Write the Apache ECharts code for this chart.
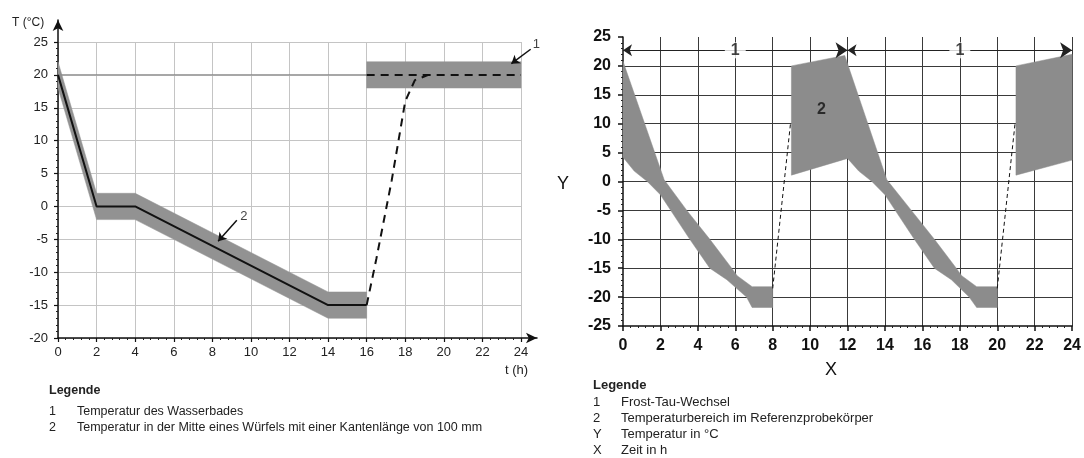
<!DOCTYPE html>
<html>
<head>
<meta charset="utf-8">
<script src="https://cdn.jsdelivr.net/npm/echarts@6/dist/echarts.min.js"></script>
<style>
  html, body { margin: 0; padding: 0; background: #fff; }
  #chart { width: 1084px; height: 458px; }
</style>
</head>
<body>
<div id="chart"></div>
<script>
// ---- left chart: Würfel / Wasserbad ----
const cubeCenter = [[0, 20], [2, 0], [4, 0], [14, -15], [16, -15]];
const cubeUpper = [[0, 22], [2, 2], [4, 2], [14, -13], [16, -13]];
const cubeLower = [[0, 18], [2, -2], [4, -2], [14, -17], [16, -17]];
const bathUpper = [[16, 22], [24, 22]];
const bathLower = [[16, 18], [24, 18]];
const bathLine = [[16, 20], [24, 20]];
const startLine = [[0, 20], [16, 20]];
const warmUp = [[16, -15], [16.5, -8], [17.3, 4], [18, 16], [18.5, 19.2], [19.2, 20]];
const leftNotes = [[24.8, 24.7, '1'], [9.64, -1.5, '2']];
const leftNoteArrows = [[[24.5, 23.9], [23.5, 21.7]], [[9.27, -2.1], [8.3, -5.3]]];

// ---- right chart: Frost-Tau-Wechsel ----
const cycle1Upper = [[0, 20.8], [2.2, 0.3], [3.41, -5], [4.64, -10], [5.81, -15], [6.1, -16.3], [6.9, -18.2], [8, -18.2]];
const cycle1Lower = [[0, 4.2], [0.6, 1.8], [1.3, 0], [2, -2.3], [3.57, -10], [4.64, -15], [5.55, -17], [6.6, -20], [6.9, -21.8], [8, -21.8]];
const cycle2Upper = [[9, 20], [11.85, 21.8], [14.1, 0.3], [15.41, -5], [16.64, -10], [17.81, -15], [18.1, -16.3], [18.9, -18.2], [20, -18.2]];
const cycle2Lower = [[9, 1.1], [12, 4], [12.6, 1.8], [13.3, 0], [14, -2.3], [15.57, -10], [16.64, -15], [17.55, -17], [18.5, -20], [18.9, -21.8], [20, -21.8]];
const cycle3Upper = [[21, 20], [24, 22]];
const cycle3Lower = [[21, 1.1], [24, 3.7]];
const thaw1 = [[8, -18.5], [8.95, 10]];
const thaw2 = [[20, -18.5], [20.95, 10]];
const cycleSpans = [[0, 12], [12, 24]];
const cycleRowY = 22.7;
const cycleNotes = [[6, 22.7, '1'], [18, 22.7, '1']];
const rangeNote = [[10.6, 12.4, '2']];

const FONT = 'Liberation Sans, Arial, sans-serif';

function polygon(upper, lower) {
  return upper.concat(lower.slice().reverse());
}

function bandSeries(upper, lower, axis, color) {
  const pts = polygon(upper, lower);
  return {
    type: 'custom',
    xAxisIndex: axis,
    yAxisIndex: axis,
    data: pts,
    encode: { x: 0, y: 1 },
    clip: false,
    silent: true,
    renderItem: function (params, api) {
      if (params.dataIndex !== 0) return null;
      return {
        type: 'polygon',
        shape: { points: pts.map(p => api.coord(p)) },
        style: { fill: color, stroke: color, lineWidth: 0.5 }
      };
    }
  };
}

function lineSeries(data, axis, color, width, type) {
  return {
    type: 'line',
    xAxisIndex: axis,
    yAxisIndex: axis,
    data: data,
    symbol: 'none',
    silent: true,
    clip: false,
    lineStyle: { color: color, width: width, type: type || 'solid' }
  };
}

function noteSeries(data, axis, label) {
  return {
    type: 'scatter', xAxisIndex: axis, yAxisIndex: axis, data: data, symbolSize: 0,
    clip: false, silent: true, z: 5,
    label: Object.assign({ show: true, position: 'inside', formatter: p => p.value[2],
      fontFamily: FONT, color: '#111' }, label)
  };
}

function valueAxis(opts) {
  return Object.assign({
    type: 'value',
    axisLine: { show: true, onZero: false, lineStyle: { color: '#111', width: 1.5 } },
    axisTick: { show: true, length: 4, lineStyle: { color: '#111', width: 1.2 } },
    minorTick: { show: true, splitNumber: 5, length: 2, lineStyle: { color: '#222' } },
    splitLine: { show: true, lineStyle: { color: '#c4c4c4', width: 1 } }
  }, opts);
}

const arrowAxis = (gi) => ({
  type: 'value', gridIndex: gi, min: 0, max: 1,
  axisLine: { show: true, onZero: false, symbol: ['none', 'arrow'], symbolSize: [8, 11],
    lineStyle: { color: '#111', width: 1.5 } },
  axisTick: { show: false }, axisLabel: { show: false }, splitLine: { show: false }
});

const leftLabel = { fontFamily: FONT, fontSize: 13, color: '#222' };
const rightLabel = { fontFamily: FONT, fontSize: 16, fontWeight: 'bold', color: '#111' };

const option = {
  animation: false,
  grid: [
    { left: 58, top: 42, width: 463, height: 296 },
    { left: 58, top: 20, width: 479, height: 318 },
    { left: 623, top: 37, width: 450, height: 289 }
  ],
  xAxis: [
    valueAxis({ gridIndex: 0, min: 0, max: 24, interval: 2, axisLine: { show: false, onZero: false },
      axisLabel: Object.assign({ margin: 8 }, leftLabel) }),
    arrowAxis(1),
    valueAxis({ gridIndex: 2, min: 0, max: 24, interval: 2,
      axisTick: { show: true, length: 5, lineStyle: { color: '#111', width: 1.5 } },
      splitLine: { show: true, showMinLine: false, lineStyle: { color: '#3a3a3a', width: 1 } },
      axisLabel: Object.assign({ margin: 12 }, rightLabel) })
  ],
  yAxis: [
    valueAxis({ gridIndex: 0, min: -20, max: 25, interval: 5, axisLine: { show: false, onZero: false },
      axisLabel: Object.assign({ margin: 10 }, leftLabel) }),
    arrowAxis(1),
    valueAxis({ gridIndex: 2, min: -25, max: 25, interval: 5,
      axisTick: { show: true, length: 5, lineStyle: { color: '#111', width: 1.5 } },
      splitLine: { show: true, showMinLine: false, showMaxLine: false, lineStyle: { color: '#3a3a3a', width: 1 } },
      axisLabel: Object.assign({ margin: 12 }, rightLabel) })
  ],
  series: [
    // left
    lineSeries(startLine, 0, '#8a8a8a', 1.2),
    bandSeries(cubeUpper, cubeLower, 0, '#929292'),
    bandSeries(bathUpper, bathLower, 0, '#929292'),
    lineSeries(cubeCenter, 0, '#111', 2),
    lineSeries(bathLine, 0, '#111', 2, [8, 6]),
    lineSeries(warmUp, 0, '#111', 2, [8, 6]),
    {
      type: 'lines', coordinateSystem: 'cartesian2d', xAxisIndex: 0, yAxisIndex: 0,
      clip: false, silent: true, symbol: ['none', 'arrow'], symbolSize: 8,
      lineStyle: { color: '#111', width: 1.5, opacity: 1 },
      data: leftNoteArrows.map(a => ({ coords: a }))
    },
    noteSeries(leftNotes, 0, { fontSize: 13 }),
    // right
    bandSeries(cycle1Upper, cycle1Lower, 2, '#8c8c8c'),
    bandSeries(cycle2Upper, cycle2Lower, 2, '#8c8c8c'),
    bandSeries(cycle3Upper, cycle3Lower, 2, '#8c8c8c'),
    lineSeries(thaw1, 2, '#111', 1, [4, 3]),
    lineSeries(thaw2, 2, '#111', 1, [4, 3]),
    {
      type: 'lines', coordinateSystem: 'cartesian2d', xAxisIndex: 2, yAxisIndex: 2,
      clip: false, silent: true, symbol: ['arrow', 'arrow'], symbolSize: [9, 12],
      lineStyle: { color: '#222', width: 1, opacity: 1 },
      data: cycleSpans.map(s => ({ coords: [[s[0], cycleRowY], [s[1], cycleRowY]] }))
    },
    noteSeries(cycleNotes, 2, { fontSize: 16, fontWeight: 'bold', backgroundColor: '#fff', padding: [0, 6] }),
    noteSeries(rangeNote, 2, { fontSize: 16, fontWeight: 'bold' })
  ],
  graphic: [
    { type: 'text', left: 12, top: 17, style: { text: 'T (°C)', font: '12px ' + FONT, fill: '#222' } },
    { type: 'text', left: 505, top: 364, style: { text: 't (h)', font: '13px ' + FONT, fill: '#222' } },
    { type: 'text', left: 557, top: 175, style: { text: 'Y', font: '18px ' + FONT, fill: '#111' } },
    { type: 'text', left: 825, top: 361, style: { text: 'X', font: '18px ' + FONT, fill: '#111' } },

    { type: 'text', left: 49, top: 384, style: { text: 'Legende', font: 'bold 12.5px ' + FONT, fill: '#222' } },
    { type: 'text', left: 49, top: 405, style: { text: '1', font: '12.5px ' + FONT, fill: '#222' } },
    { type: 'text', left: 77, top: 405, style: { text: 'Temperatur des Wasserbades', font: '12.5px ' + FONT, fill: '#222' } },
    { type: 'text', left: 49, top: 421, style: { text: '2', font: '12.5px ' + FONT, fill: '#222' } },
    { type: 'text', left: 77, top: 421, style: { text: 'Temperatur in der Mitte eines Würfels mit einer Kantenlänge von 100 mm', font: '12.5px ' + FONT, fill: '#222' } },

    { type: 'text', left: 593, top: 379, style: { text: 'Legende', font: 'bold 13px ' + FONT, fill: '#222' } },
    { type: 'text', left: 593, top: 396, style: { text: '1', font: '13px ' + FONT, fill: '#222' } },
    { type: 'text', left: 621, top: 396, style: { text: 'Frost-Tau-Wechsel', font: '13px ' + FONT, fill: '#222' } },
    { type: 'text', left: 593, top: 412, style: { text: '2', font: '13px ' + FONT, fill: '#222' } },
    { type: 'text', left: 621, top: 412, style: { text: 'Temperaturbereich im Referenzprobekörper', font: '13px ' + FONT, fill: '#222' } },
    { type: 'text', left: 593, top: 428, style: { text: 'Y', font: '13px ' + FONT, fill: '#222' } },
    { type: 'text', left: 621, top: 428, style: { text: 'Temperatur in °C', font: '13px ' + FONT, fill: '#222' } },
    { type: 'text', left: 593, top: 444, style: { text: 'X', font: '13px ' + FONT, fill: '#222' } },
    { type: 'text', left: 621, top: 444, style: { text: 'Zeit in h', font: '13px ' + FONT, fill: '#222' } }
  ]
};

const chart = echarts.init(document.getElementById('chart'), null, { renderer: 'canvas' });
chart.setOption(option);
</script>
</body>
</html>
